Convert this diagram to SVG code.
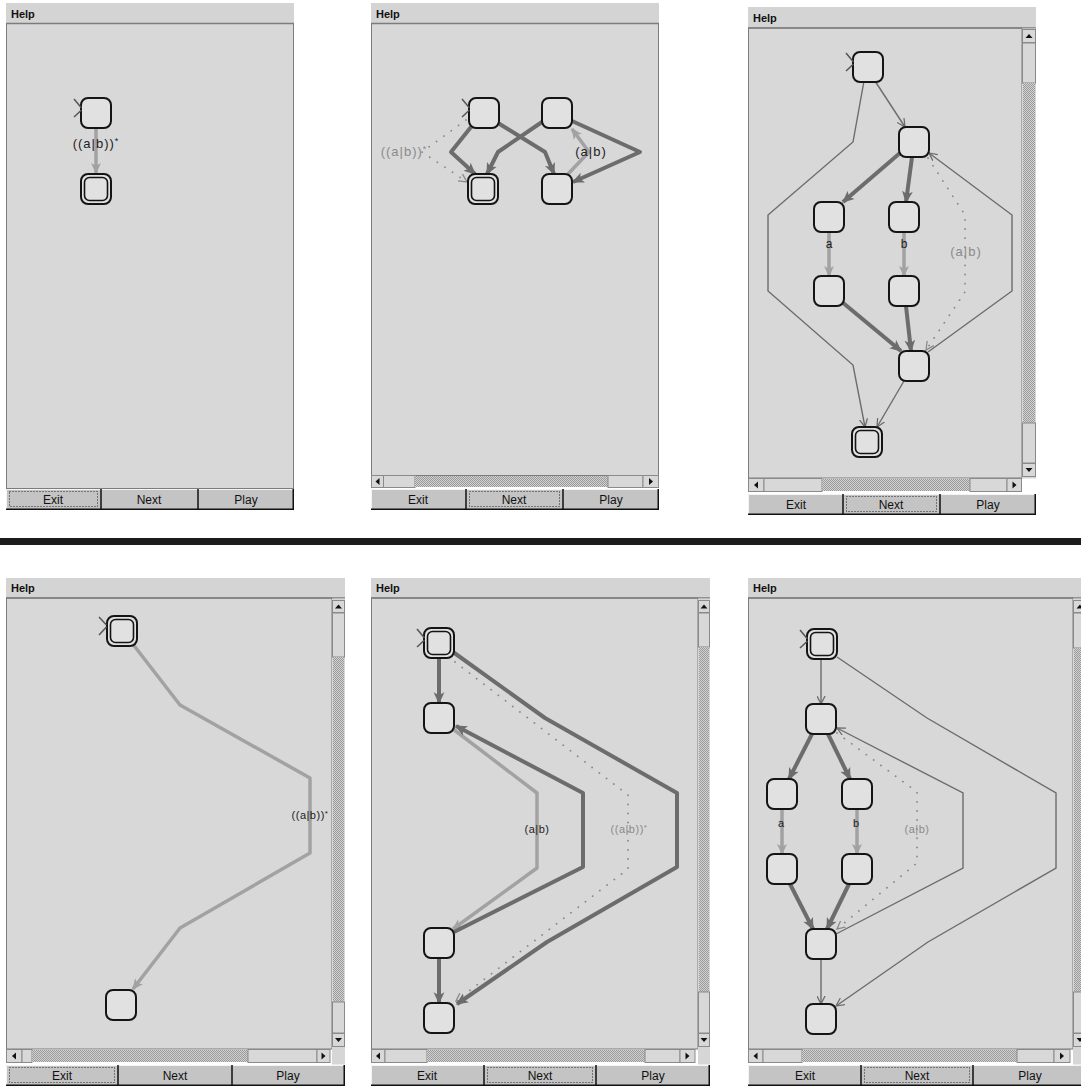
<svg xmlns="http://www.w3.org/2000/svg" width="1081" height="1087" viewBox="0 0 1081 1087">
<style>
text{font-family:"Liberation Sans",Arial,sans-serif}
.title{font-size:11px;font-weight:bold;fill:#111}
.tbar{fill:#d4d4d4}
.tline{stroke:#7c7c7c;stroke-width:1.5}
.content{fill:#d8d8d8;stroke:#7c7c7c;stroke-width:1}
.btn{fill:#c4c4c4}
.btnhi{stroke:#f4f4f4;stroke-width:1;fill:none}
.btnsh{stroke:#111;stroke-width:1.5;fill:none}
.btxt{font-size:12px;fill:#111;text-anchor:middle}
.focus{fill:none;stroke:#222;stroke-width:1;stroke-dasharray:1 2}
.sb{fill:#d8d8d8;stroke:#8a8a8a;stroke-width:1}
.stip{fill:url(#stip)}
.tri{fill:#111}
.node{fill:#e1e1e1;stroke:#141414;stroke-width:2}
.fin{fill:none;stroke:#141414;stroke-width:1.6}
.init{fill:none;stroke:#555;stroke-width:1.5}
.thick{fill:none;stroke:#6c6c6c;stroke-width:4;stroke-linejoin:round;marker-end:url(#aThick)}
.light{fill:none;stroke:#a2a2a2;stroke-width:3.5;stroke-linejoin:round;marker-end:url(#aLight)}
.thin{fill:none;stroke:#6c6c6c;stroke-width:1.4;marker-end:url(#aThin)}
.dot{fill:none;stroke:#888;stroke-width:1.8;stroke-linecap:round;stroke-dasharray:0.1 9;marker-end:url(#aDot)}
.lbl{fill:#222;text-anchor:middle}
.lblg{fill:#8a8a8a;text-anchor:middle}
.big{font-size:13px;letter-spacing:1px}
.sm{font-size:11px;letter-spacing:0.5px}
</style>
<defs>
<pattern id="stip" width="2" height="2" patternUnits="userSpaceOnUse"><rect width="2" height="2" fill="#d2d2d2"/><rect width="1" height="1" fill="#9a9a9a"/><rect x="1" y="1" width="1" height="1" fill="#9a9a9a"/></pattern>
<marker id="aThick" markerUnits="userSpaceOnUse" viewBox="0 0 10 10" markerWidth="12" markerHeight="12" refX="9" refY="5" orient="auto"><path d="M0,0.5 L10,5 L0,9.5 L2.5,5 z" fill="#6c6c6c"/></marker>
<marker id="aLight" markerUnits="userSpaceOnUse" viewBox="0 0 10 10" markerWidth="11" markerHeight="11" refX="9" refY="5" orient="auto"><path d="M0,0.5 L10,5 L0,9.5 L2.5,5 z" fill="#a2a2a2"/></marker>
<marker id="aThin" markerUnits="userSpaceOnUse" viewBox="0 0 10 10" markerWidth="9" markerHeight="9" refX="9" refY="5" orient="auto"><path d="M0,0.5 L9,5 L0,9.5" fill="none" stroke="#6c6c6c" stroke-width="1.4"/></marker>
<marker id="aDot" markerUnits="userSpaceOnUse" viewBox="0 0 10 10" markerWidth="9" markerHeight="9" refX="9" refY="5" orient="auto"><path d="M0,0.5 L9,5 L0,9.5" fill="none" stroke="#888" stroke-width="1.4"/></marker>
</defs>
<rect width="1081" height="1087" fill="#ffffff"/>

<!-- ============ PANEL 1 ============ -->
<g id="panel1-frame">
<rect class="tbar" x="6" y="3" width="288" height="20"/>
<text class="title" x="11" y="18">Help</text>
<rect class="content" x="6.5" y="23.5" width="287" height="465"/>
<line class="tline" x1="6" y1="23.5" x2="294" y2="23.5"/>
<rect class="btn" x="6" y="489" width="288" height="21"/>
<path class="btnhi" d="M6.5,510 V489.5 H294"/>
<path class="btnsh" d="M6,509.25 H294 M101,489 V510 M198,489 V510 M293.25,489 V510"/>
<rect class="focus" x="9.5" y="491.5" width="88" height="15"/>
<text class="btxt" x="53" y="504">Exit</text>
<text class="btxt" x="149" y="504">Next</text>
<text class="btxt" x="246" y="504">Play</text>
</g>
<g id="panel1-edges">
<path class="light" d="M96,128 V173"/>
<text class="lbl big" x="96" y="148">((a|b))<tspan font-size="9" dy="-4">*</tspan></text>
</g>
<g id="p1-s0"><rect class="node" x="81" y="98" width="30" height="30" rx="7"/><path class="init" d="M74,99 L81.5,108 M74,117 L81.5,110"/></g>
<g id="p1-s1"><rect class="node" x="81" y="174" width="30" height="30" rx="7"/><rect class="fin" x="84.5" y="177.5" width="23" height="23" rx="5"/></g>

<!-- ============ PANEL 2 ============ -->
<g id="panel2-frame">
<rect class="tbar" x="371" y="3" width="288" height="20"/>
<text class="title" x="376" y="18">Help</text>
<rect class="content" x="371.5" y="23.5" width="287" height="452"/>
<line class="tline" x1="371" y1="23.5" x2="659" y2="23.5"/>
<rect class="sb" x="371.5" y="475.5" width="12" height="12"/><path class="tri" d="M379.5,478 V485 L375.5,481.5 z"/>
<rect class="sb" x="383.5" y="475.5" width="31.5" height="12"/>
<rect class="stip" x="415" y="476" width="193" height="11"/>
<rect class="sb" x="608" y="475.5" width="35" height="12"/>
<rect class="sb" x="643" y="475.5" width="15.5" height="12"/><path class="tri" d="M649,478 V485 L653,481.5 z"/>
<rect class="btn" x="371" y="489" width="288" height="21"/>
<path class="btnhi" d="M371.5,510 V489.5 H659"/>
<path class="btnsh" d="M371,509.25 H659 M466,489 V510 M563,489 V510 M658.25,489 V510"/>
<rect class="focus" x="469.5" y="491.5" width="90" height="15"/>
<text class="btxt" x="418" y="504">Exit</text>
<text class="btxt" x="514" y="504">Next</text>
<text class="btxt" x="611" y="504">Play</text>
</g>
<g id="panel2-edges">
<path class="thick" d="M471,127 L451,152 L475,174"/>
<path class="thick" d="M498,123 L545,152 L554,174"/>
<path class="thick" d="M542,122 L498,152 L487,174"/>
<path class="thick" d="M572,121 L640,152 L573,182"/>
<path class="light" d="M568,174 L589,152 L572,129"/>
<path class="dot" d="M466,120 L422,152 L467,182"/>
<text class="lblg big" x="404" y="156">((a|b))<tspan font-size="9" dy="-4">*</tspan></text>
<text class="lbl big" x="591" y="156">(a|b)</text>
</g>
<g id="p2-s0"><rect class="node" x="469" y="98" width="30" height="30" rx="7"/><path class="init" d="M462,99 L469.5,108 M462,117 L469.5,110"/></g>
<g id="p2-s1"><rect class="node" x="542" y="98" width="30" height="30" rx="7"/></g>
<g id="p2-s2"><rect class="node" x="468" y="174" width="30" height="30" rx="7"/><rect class="fin" x="471.5" y="177.5" width="23" height="23" rx="5"/></g>
<g id="p2-s3"><rect class="node" x="542" y="174" width="30" height="30" rx="7"/></g>

<!-- ============ PANEL 3 ============ -->
<g id="panel3-frame">
<rect class="tbar" x="748" y="7" width="288" height="21"/>
<text class="title" x="753" y="22">Help</text>
<rect class="content" x="748.5" y="28" width="273.5" height="450"/>
<line class="tline" x1="748" y1="28" x2="1036" y2="28"/>
<rect x="1022" y="28.5" width="14" height="450" fill="#d6d6d6"/>
<rect class="sb" x="1022.5" y="29.5" width="13" height="13"/><path class="tri" d="M1025.5,38 H1032.5 L1029,34 z"/>
<rect class="sb" x="1022.5" y="43" width="13" height="40"/>
<rect class="stip" x="1023" y="83" width="12" height="340"/>
<rect class="sb" x="1022.5" y="423" width="13" height="40"/>
<rect class="sb" x="1022.5" y="463.5" width="13" height="13"/><path class="tri" d="M1025.5,468 H1032.5 L1029,472 z"/>
<rect class="sb" x="748.5" y="478.5" width="15.5" height="13"/><path class="tri" d="M758,481.5 V488.5 L754,485 z"/>
<rect class="sb" x="764" y="478.5" width="58" height="13"/>
<rect class="stip" x="822" y="479" width="148" height="12"/>
<rect class="sb" x="970" y="478.5" width="37" height="13"/>
<rect class="sb" x="1007" y="478.5" width="14.5" height="13"/><path class="tri" d="M1012.5,481.5 V488.5 L1016.5,485 z"/>
<rect class="btn" x="748" y="494" width="288" height="21"/>
<path class="btnhi" d="M748.5,515 V494.5 H1036"/>
<path class="btnsh" d="M748,514.25 H1036 M843,494 V515 M940,494 V515 M1035.25,494 V515"/>
<rect class="focus" x="846.5" y="496.5" width="90" height="15"/>
<text class="btxt" x="796" y="509">Exit</text>
<text class="btxt" x="891" y="509">Next</text>
<text class="btxt" x="988" y="509">Play</text>
</g>
<g id="panel3-edges">
<path class="thin" d="M875,81 L905,127"/>
<path class="thin" d="M864,81 L853,142 L768,215 L768,291 L853,365 L865,427"/>
<path class="thick" d="M900,153 L843,202"/>
<path class="thick" d="M912,157 L906,202"/>
<path class="light" d="M829,232 V276"/>
<path class="light" d="M904,232 V276"/>
<text class="lbl" font-size="12" x="829" y="248">a</text>
<text class="lbl" font-size="12" x="904" y="248">b</text>
<path class="thick" d="M842,302 L901,351"/>
<path class="thick" d="M906,306 L911,351"/>
<path class="dot" d="M928,158 L965,215 L965,292 L926,350"/>
<text class="lblg big" x="966" y="256">(a|b)</text>
<path class="thin" d="M928,352 L1012,291 L1012,215 L929,153"/>
<path class="thin" d="M904,381 L877,427"/>
</g>
<g id="p3-s0"><rect class="node" x="853" y="52" width="30" height="30" rx="7"/><path class="init" d="M846,53 L853.5,62 M846,71 L853.5,64"/></g>
<g id="p3-s1"><rect class="node" x="899" y="127" width="30" height="30" rx="7"/></g>
<g id="p3-s2"><rect class="node" x="814" y="202" width="30" height="30" rx="7"/></g>
<g id="p3-s3"><rect class="node" x="889" y="202" width="30" height="30" rx="7"/></g>
<g id="p3-s4"><rect class="node" x="814" y="276" width="30" height="30" rx="7"/></g>
<g id="p3-s5"><rect class="node" x="889" y="276" width="30" height="30" rx="7"/></g>
<g id="p3-s6"><rect class="node" x="899" y="351" width="30" height="30" rx="7"/></g>
<g id="p3-s7"><rect class="node" x="852" y="427" width="30" height="30" rx="7"/><rect class="fin" x="855.5" y="430.5" width="23" height="23" rx="5"/></g>

<!-- separator -->
<rect x="0" y="538" width="1081" height="7" fill="#1c1c1c"/>

<!-- ============ PANEL 4 ============ -->
<g id="panel4-frame">
<rect class="tbar" x="6" y="578" width="339" height="20"/>
<text class="title" x="11" y="592">Help</text>
<rect class="content" x="6.5" y="598" width="325.5" height="451"/>
<line class="tline" x1="6" y1="598" x2="345" y2="598"/>
<rect x="332" y="598.5" width="13" height="466" fill="#d6d6d6"/>
<rect class="sb" x="332.5" y="600.5" width="12" height="12"/><path class="tri" d="M335,608.5 H342 L338.5,604.5 z"/>
<rect class="sb" x="332.5" y="613" width="12" height="44"/>
<rect class="stip" x="333" y="657" width="11" height="345"/>
<rect class="sb" x="332.5" y="1002" width="12" height="31"/>
<rect class="sb" x="332.5" y="1033.5" width="12" height="13"/><path class="tri" d="M335,1038 H342 L338.5,1042 z"/>
<rect class="sb" x="6.5" y="1049.5" width="15.5" height="13"/><path class="tri" d="M16,1052.5 V1059.5 L12,1056 z"/>
<rect class="sb" x="22" y="1049.5" width="10" height="13"/>
<rect class="stip" x="32" y="1050" width="216" height="12"/>
<rect class="sb" x="248" y="1049.5" width="69" height="13"/>
<rect class="sb" x="317" y="1049.5" width="13" height="13"/><path class="tri" d="M321.5,1052.5 V1059.5 L325.5,1056 z"/>
<rect class="btn" x="6" y="1065" width="339" height="21"/>
<path class="btnhi" d="M6.5,1086 V1065.5 H345"/>
<path class="btnsh" d="M6,1085.25 H345 M118,1065 V1086 M232,1065 V1086 M344.25,1065 V1086"/>
<rect class="focus" x="9.5" y="1067.5" width="105" height="15"/>
<text class="btxt" x="62" y="1080">Exit</text>
<text class="btxt" x="175" y="1080">Next</text>
<text class="btxt" x="288" y="1080">Play</text>
</g>
<g id="panel4-edges">
<path class="light" d="M132,643 L180,705 L310,778 L310,853 L180,928 L133,989"/>
<text class="lbl sm" x="310" y="819">((a|b))<tspan font-size="8" dy="-3">*</tspan></text>
</g>
<g id="p4-s0"><rect class="node" x="107" y="616" width="30" height="30" rx="7"/><rect class="fin" x="110.5" y="619.5" width="23" height="23" rx="5"/><path class="init" d="M99,617 L106.5,625 M99,635 L106.5,627"/></g>
<g id="p4-s1"><rect class="node" x="106" y="990" width="30" height="30" rx="7"/></g>

<!-- ============ PANEL 5 ============ -->
<g id="panel5-frame">
<rect class="tbar" x="371" y="578" width="339" height="20"/>
<text class="title" x="376" y="592">Help</text>
<rect class="content" x="371.5" y="598" width="326.5" height="451"/>
<line class="tline" x1="371" y1="598" x2="710" y2="598"/>
<rect x="698" y="598.5" width="12" height="466" fill="#d6d6d6"/>
<rect class="sb" x="698.5" y="600.5" width="11" height="12"/><path class="tri" d="M700.5,608.5 H707.5 L704,604.5 z"/>
<rect class="sb" x="698.5" y="613" width="11" height="34"/>
<rect class="stip" x="699" y="647" width="10" height="345"/>
<rect class="sb" x="698.5" y="992" width="11" height="41"/>
<rect class="sb" x="698.5" y="1033.5" width="11" height="13"/><path class="tri" d="M700.5,1038 H707.5 L704,1042 z"/>
<rect class="sb" x="371.5" y="1049.5" width="13.5" height="13"/><path class="tri" d="M380,1052.5 V1059.5 L376,1056 z"/>
<rect class="sb" x="385" y="1049.5" width="42" height="13"/>
<rect class="stip" x="427" y="1050" width="218" height="12"/>
<rect class="sb" x="645" y="1049.5" width="35" height="13"/>
<rect class="sb" x="680" y="1049.5" width="15" height="13"/><path class="tri" d="M685.5,1052.5 V1059.5 L689.5,1056 z"/>
<rect class="btn" x="371" y="1065" width="339" height="21"/>
<path class="btnhi" d="M371.5,1086 V1065.5 H710"/>
<path class="btnsh" d="M371,1085.25 H710 M484,1065 V1086 M596,1065 V1086 M709.25,1065 V1086"/>
<rect class="focus" x="487.5" y="1067.5" width="105" height="15"/>
<text class="btxt" x="427" y="1080">Exit</text>
<text class="btxt" x="540" y="1080">Next</text>
<text class="btxt" x="653" y="1080">Play</text>
</g>
<g id="panel5-edges">
<path class="thick" d="M439,658 V703"/>
<path class="thick" d="M439,958 V1003"/>
<path class="light" d="M453,729 L537,793 L537,868 L453,929"/>
<path class="thick" d="M454,932 L583,867 L583,793 L456,726"/>
<path class="dot" d="M455,662 L628,795 L628,869 L456,1001"/>
<path class="thick" d="M453,652 L545,718 L677,793 L677,867 L547,942 L457,1004"/>
<text class="lbl sm" x="537" y="833">(a|b)</text>
<text class="lblg sm" x="629" y="833">((a|b))<tspan font-size="8" dy="-3">*</tspan></text>
</g>
<g id="p5-s0"><rect class="node" x="424" y="628" width="30" height="30" rx="7"/><rect class="fin" x="427.5" y="631.5" width="23" height="23" rx="5"/><path class="init" d="M417,629 L424.5,638 M417,647 L424.5,640"/></g>
<g id="p5-s1"><rect class="node" x="424" y="703" width="30" height="30" rx="7"/></g>
<g id="p5-s2"><rect class="node" x="424" y="928" width="30" height="30" rx="7"/></g>
<g id="p5-s3"><rect class="node" x="424" y="1003" width="30" height="30" rx="7"/></g>

<!-- ============ PANEL 6 ============ -->
<g id="panel6-frame">
<rect class="tbar" x="748" y="578" width="340" height="20"/>
<text class="title" x="753" y="592">Help</text>
<rect class="content" x="748.5" y="598" width="324.5" height="451"/>
<line class="tline" x1="748" y1="598" x2="1081" y2="598"/>
<rect x="1073" y="598.5" width="14" height="466" fill="#d6d6d6"/>
<rect class="sb" x="1073.5" y="600.5" width="13" height="12"/><path class="tri" d="M1076.5,608.5 H1083.5 L1080,604.5 z"/>
<rect class="sb" x="1073.5" y="613" width="13" height="35"/>
<rect class="stip" x="1074" y="648" width="12" height="344"/>
<rect class="sb" x="1073.5" y="992" width="13" height="41"/>
<rect class="sb" x="1073.5" y="1033.5" width="13" height="13"/><path class="tri" d="M1076.5,1038 H1083.5 L1080,1042 z"/>
<rect class="sb" x="748.5" y="1049.5" width="14.5" height="13"/><path class="tri" d="M757.5,1052.5 V1059.5 L753.5,1056 z"/>
<rect class="sb" x="763" y="1049.5" width="39" height="13"/>
<rect class="stip" x="802" y="1050" width="215" height="12"/>
<rect class="sb" x="1017" y="1049.5" width="37" height="13"/>
<rect class="sb" x="1054" y="1049.5" width="16" height="13"/><path class="tri" d="M1060,1052.5 V1059.5 L1064,1056 z"/>
<rect class="btn" x="748" y="1065" width="340" height="21"/>
<path class="btnhi" d="M748.5,1086 V1065.5 H1088"/>
<path class="btnsh" d="M748,1085.25 H1088 M861,1065 V1086 M973,1065 V1086"/>
<rect class="focus" x="864.5" y="1067.5" width="105" height="15"/>
<text class="btxt" x="805" y="1080">Exit</text>
<text class="btxt" x="917" y="1080">Next</text>
<text class="btxt" x="1030" y="1080">Play</text>
</g>
<g id="panel6-edges">
<path class="thin" d="M821,659 V704"/>
<path class="thin" d="M837,657 L927,718 L1056,793 L1056,868 L928,942 L836,1006"/>
<path class="thick" d="M812,734 L789,779"/>
<path class="thick" d="M828,734 L850,779"/>
<path class="light" d="M782,809 V854"/>
<path class="light" d="M857,809 V854"/>
<text class="lbl" font-size="11" x="781" y="827">a</text>
<text class="lbl" font-size="11" x="856" y="827">b</text>
<path class="thick" d="M790,884 L813,929"/>
<path class="thick" d="M849,884 L827,929"/>
<path class="thin" d="M836,934 L963,868 L963,793 L837,728"/>
<path class="dot" d="M837,733 L917,792 L917,863 L837,929"/>
<text class="lblg sm" x="917" y="833">(a|b)</text>
<path class="thin" d="M821,959 V1004"/>
</g>
<g id="p6-s0"><rect class="node" x="807" y="629" width="30" height="30" rx="7"/><rect class="fin" x="810.5" y="632.5" width="23" height="23" rx="5"/><path class="init" d="M800,630 L807.5,639 M800,648 L807.5,641"/></g>
<g id="p6-s1"><rect class="node" x="806" y="704" width="30" height="30" rx="7"/></g>
<g id="p6-s2"><rect class="node" x="767" y="779" width="30" height="30" rx="7"/></g>
<g id="p6-s3"><rect class="node" x="842" y="779" width="30" height="30" rx="7"/></g>
<g id="p6-s4"><rect class="node" x="767" y="854" width="30" height="30" rx="7"/></g>
<g id="p6-s5"><rect class="node" x="842" y="854" width="30" height="30" rx="7"/></g>
<g id="p6-s6"><rect class="node" x="806" y="929" width="30" height="30" rx="7"/></g>
<g id="p6-s7"><rect class="node" x="806" y="1004" width="30" height="30" rx="7"/></g>
</svg>
